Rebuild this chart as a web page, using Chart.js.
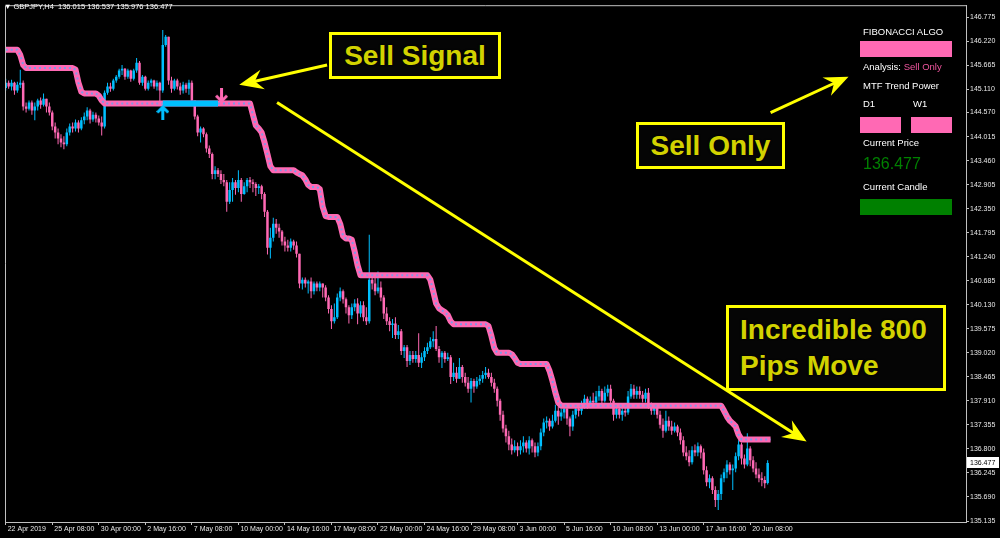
<!DOCTYPE html>
<html>
<head>
<meta charset="utf-8">
<script src="https://cdn.jsdelivr.net/npm/chart.js@4.4.1/dist/chart.umd.min.js"></script>
<style>
  html, body { margin: 0; padding: 0; background: #000; }
  #wrap { position: relative; width: 1000px; height: 538px; overflow: hidden; background: #000; }
  #chart { position: absolute; left: 0; top: 0; }
  .ov { position: absolute; white-space: pre; font-family: "Liberation Sans", Arial, sans-serif; }
  .hdr { left: 4px; top: 2px; font-size: 7.5px; line-height: 10px; color: #fff; }
  .pt { left: 863px; font-size: 9.5px; line-height: 11px; color: #fff; }
  .blk { position: absolute; background: #ff69b4; }
  .callout { position: absolute; box-sizing: border-box; border: 3px solid #ffff00; background: #050505;
             font: bold 28px "Liberation Sans", Arial, sans-serif; line-height: 36px; color: #d2d200;
             text-shadow: 0 0 2px #000; white-space: pre; }
  .center { display: flex; align-items: center; justify-content: center; }
</style>
</head>
<body>
<div id="wrap">
  <canvas id="chart" width="1000" height="538"></canvas>

  <div class="ov hdr">▼ GBPJPY,H4  136.015 136.537 135.976 136.477</div>

  <div class="callout center" style="left:329px;top:32px;width:172px;height:47px">Sell Signal</div>
  <div class="callout center" style="left:636px;top:122px;width:149px;height:47px">Sell Only</div>
  <div class="callout" style="left:726px;top:305px;width:220px;height:86px;padding:4px 0 0 11px">Incredible 800
Pips Move</div>

  <div class="ov pt" style="top:26px">FIBONACCI ALGO</div>
  <div class="blk" style="left:860px;top:41px;width:92px;height:16px"></div>
  <div class="ov pt" style="top:61px">Analysis: <span style="color:#f0559e">Sell Only</span></div>
  <div class="ov pt" style="top:80px">MTF Trend Power</div>
  <div class="ov pt" style="top:98px">D1</div>
  <div class="ov pt" style="top:98px;left:913px">W1</div>
  <div class="blk" style="left:860px;top:117px;width:41px;height:16px"></div>
  <div class="blk" style="left:911px;top:117px;width:41px;height:16px"></div>
  <div class="ov pt" style="top:137px">Current Price</div>
  <div class="ov pt" style="top:154px;font-size:16px;line-height:20px;color:#008000">136.477</div>
  <div class="ov pt" style="top:181px">Current Candle</div>
  <div class="blk" style="left:860px;top:199px;width:92px;height:16px;background:#008000"></div>
</div>

<script>
// GBPJPY H4, one entry per bar (bar 0 = 22 Apr 2019)
const barOpen = [
  145.14,145.26,145.17,145.26,145.08,145.21,145.26,144.71,144.66,144.80,
  144.62,144.71,144.85,144.75,144.89,144.71,144.57,144.25,144.11,143.97,
  143.88,143.84,144.11,144.25,144.20,144.34,144.20,144.39,144.48,144.62,
  144.41,144.52,144.43,144.34,144.25,145.03,145.17,145.12,145.31,145.40,
  145.54,145.58,145.40,145.54,145.35,145.54,145.72,145.26,145.40,145.12,
  145.26,145.31,145.17,145.26,145.08,146.13,146.32,145.31,145.12,145.31,
  145.17,145.08,145.21,145.12,145.26,144.85,144.48,144.11,144.20,144.07,
  143.74,143.61,143.15,143.24,143.15,143.01,142.96,142.51,142.78,142.96,
  142.83,143.01,142.69,142.87,143.01,142.96,142.92,142.83,142.87,142.69,
  142.28,141.45,141.68,142.00,141.91,141.82,141.59,141.50,141.45,141.59,
  141.50,141.31,140.62,140.71,140.62,140.67,140.44,140.62,140.53,140.62,
  140.53,140.30,140.03,139.75,139.84,140.30,140.44,140.26,140.07,139.89,
  140.07,140.16,139.93,140.12,139.84,139.75,140.71,140.62,140.44,140.53,
  140.30,139.93,139.75,139.66,139.70,139.43,139.52,139.06,139.15,138.83,
  138.97,138.88,138.97,138.79,138.92,139.06,139.15,139.29,139.34,139.11,
  138.92,139.02,138.88,138.92,138.46,138.56,138.42,138.69,138.46,138.33,
  138.19,138.37,138.24,138.37,138.42,138.51,138.56,138.46,138.33,138.19,
  137.91,137.59,137.27,137.09,136.90,136.77,136.86,136.77,136.86,136.95,
  136.81,137.00,136.86,136.72,136.86,137.18,137.41,137.45,137.32,137.45,
  137.68,137.55,137.64,137.73,137.50,137.32,137.59,137.73,137.68,137.82,
  137.96,137.82,137.91,137.87,138.01,138.14,137.91,138.10,138.19,137.91,
  137.59,137.73,137.59,137.68,137.64,138.01,138.19,138.05,138.14,138.05,
  137.96,138.10,137.82,137.68,137.78,137.59,137.36,137.22,137.45,137.32,
  137.22,137.32,137.18,137.00,136.72,136.63,136.49,136.77,136.72,136.86,
  136.72,136.31,136.03,136.12,135.85,135.62,135.76,136.12,136.26,136.44,
  136.31,136.35,136.63,136.90,136.58,136.44,136.81,136.54,136.35,136.21,
  136.12,136.08,136.015
];
const barHigh = [
  145.35,145.31,145.33,145.28,145.28,145.56,145.31,144.80,144.85,144.85,
  144.80,144.89,144.92,145.01,144.89,144.80,144.62,144.34,144.20,144.07,
  144.02,144.20,144.32,144.34,144.41,144.39,144.46,144.57,144.69,144.66,
  144.59,144.57,144.50,144.48,145.08,145.26,145.26,145.35,145.44,145.58,
  145.67,145.60,145.58,145.56,145.58,145.83,145.76,145.44,145.42,145.31,
  145.35,145.33,145.31,145.28,146.48,146.36,146.32,145.40,145.35,145.35,
  145.26,145.28,145.26,145.33,145.31,144.80,144.52,144.25,144.23,144.11,
  143.81,143.65,143.33,143.29,143.24,143.15,143.01,142.96,143.06,143.01,
  143.24,143.06,142.96,143.06,143.08,143.03,142.96,142.92,142.90,142.73,
  142.32,141.91,142.14,142.11,142.00,141.86,141.70,141.63,141.66,141.63,
  141.59,141.31,140.76,140.76,140.71,140.76,140.67,140.67,140.67,140.62,
  140.58,140.35,140.12,140.16,140.39,140.53,140.48,140.30,140.12,140.16,
  140.26,140.28,140.21,140.21,140.07,141.75,140.85,140.76,140.90,140.67,
  140.35,140.07,139.84,139.80,139.84,139.66,139.57,139.20,139.20,139.06,
  139.06,139.06,139.47,139.02,139.15,139.25,139.38,139.52,139.64,139.18,
  139.06,139.06,139.02,138.97,138.79,138.69,138.90,138.74,138.56,138.46,
  138.44,138.42,138.46,138.51,138.60,138.69,138.65,138.56,138.42,138.24,
  137.96,137.68,137.36,137.22,137.04,137.00,136.95,137.00,137.09,137.00,
  137.09,137.04,136.95,136.95,137.27,137.50,137.55,137.50,137.59,137.82,
  137.78,137.73,137.82,137.78,137.55,137.68,137.82,137.82,137.91,138.05,
  138.01,138.01,138.10,138.14,138.26,138.19,138.24,138.28,138.28,137.96,
  137.78,137.78,137.78,137.82,138.14,138.30,138.28,138.24,138.24,138.14,
  138.19,138.21,137.87,137.82,137.82,137.68,137.50,137.68,137.55,137.45,
  137.41,137.36,137.27,137.09,136.86,136.77,136.86,136.90,136.95,136.90,
  136.81,136.40,136.21,136.17,135.94,135.85,136.21,136.35,136.54,136.49,
  136.44,136.72,137.00,136.95,136.67,137.16,136.86,136.63,136.49,136.35,
  136.26,136.17,136.537
];
const barLow = [
  145.08,145.12,145.08,144.98,145.03,145.14,144.62,144.57,144.62,144.52,
  144.39,144.62,144.66,144.71,144.57,144.50,144.16,143.97,143.84,143.77,
  143.72,143.79,144.04,144.11,144.13,144.11,144.16,144.30,144.39,144.32,
  144.36,144.34,144.27,144.04,144.20,144.98,145.05,145.08,145.26,145.35,
  145.44,145.33,145.35,145.28,145.31,145.49,145.21,145.19,145.08,145.08,
  145.17,145.12,145.08,144.80,145.03,146.09,145.21,145.03,145.08,145.10,
  144.98,145.01,145.03,144.98,144.78,144.41,144.02,143.88,144.00,143.65,
  143.52,143.03,143.03,143.08,142.92,142.87,142.28,142.46,142.51,142.67,
  142.73,142.51,142.67,142.73,142.83,142.73,142.64,142.69,142.57,142.16,
  141.29,141.20,141.59,141.77,141.68,141.50,141.36,141.36,141.36,141.40,
  141.22,140.51,140.48,140.53,140.39,140.28,140.37,140.44,140.44,140.30,
  140.21,139.93,139.57,139.70,139.80,140.21,140.16,139.93,139.70,139.80,
  139.98,139.68,139.84,139.75,139.66,139.70,140.48,140.35,140.39,140.21,
  139.80,139.66,139.52,139.36,139.34,139.34,138.97,138.90,138.69,138.74,
  138.79,138.79,138.69,138.67,138.83,138.99,139.11,139.15,139.06,138.79,
  138.67,138.79,138.83,138.30,138.37,138.33,138.42,138.33,138.24,138.10,
  137.87,138.10,138.19,138.28,138.33,138.42,138.42,138.24,138.10,137.78,
  137.45,137.18,136.95,136.77,136.67,136.72,136.63,136.67,136.72,136.72,
  136.67,136.72,136.61,136.63,136.77,137.09,137.27,137.22,137.27,137.41,
  137.36,137.45,137.50,137.36,137.09,137.22,137.50,137.55,137.59,137.73,
  137.73,137.78,137.78,137.82,137.91,137.82,137.87,138.01,137.82,137.45,
  137.50,137.50,137.45,137.55,137.59,137.96,137.96,137.96,137.96,137.87,
  137.87,137.73,137.59,137.59,137.50,137.27,137.06,137.18,137.22,137.13,
  137.18,137.09,136.90,136.63,136.54,136.40,136.44,136.63,136.63,136.58,
  136.21,135.94,135.89,135.76,135.46,135.39,135.62,136.03,136.12,136.21,
  135.85,136.26,136.54,136.44,136.35,136.40,136.40,136.26,136.12,136.03,
  135.94,135.89,135.976
];
const barClose = [
  145.26,145.17,145.26,145.08,145.21,145.26,144.71,144.66,144.80,144.62,
  144.71,144.85,144.75,144.89,144.71,144.57,144.25,144.11,143.97,143.88,
  143.84,144.11,144.25,144.20,144.34,144.20,144.39,144.48,144.62,144.41,
  144.52,144.43,144.34,144.25,145.03,145.17,145.12,145.31,145.40,145.54,
  145.58,145.40,145.54,145.35,145.54,145.72,145.26,145.40,145.12,145.26,
  145.31,145.17,145.26,145.08,146.13,146.32,145.31,145.12,145.31,145.17,
  145.08,145.21,145.12,145.26,144.85,144.48,144.11,144.20,144.07,143.74,
  143.61,143.15,143.24,143.15,143.01,142.96,142.51,142.78,142.96,142.83,
  143.01,142.69,142.87,143.01,142.96,142.92,142.83,142.87,142.69,142.28,
  141.45,141.68,142.00,141.91,141.82,141.59,141.50,141.45,141.59,141.50,
  141.31,140.62,140.71,140.62,140.67,140.44,140.62,140.53,140.62,140.53,
  140.30,140.03,139.75,139.84,140.30,140.44,140.26,140.07,139.89,140.07,
  140.16,139.93,140.12,139.84,139.75,140.71,140.62,140.44,140.53,140.30,
  139.93,139.75,139.66,139.70,139.43,139.52,139.06,139.15,138.83,138.97,
  138.88,138.97,138.79,138.92,139.06,139.15,139.29,139.34,139.11,138.92,
  139.02,138.88,138.92,138.46,138.56,138.42,138.69,138.46,138.33,138.19,
  138.37,138.24,138.37,138.42,138.51,138.56,138.46,138.33,138.19,137.91,
  137.59,137.27,137.09,136.90,136.77,136.86,136.77,136.86,136.95,136.81,
  137.00,136.86,136.72,136.86,137.18,137.41,137.45,137.32,137.45,137.68,
  137.55,137.64,137.73,137.50,137.32,137.59,137.73,137.68,137.82,137.96,
  137.82,137.91,137.87,138.01,138.14,137.91,138.10,138.19,137.91,137.59,
  137.73,137.59,137.68,137.64,138.01,138.19,138.05,138.14,138.05,137.96,
  138.10,137.82,137.68,137.78,137.59,137.36,137.22,137.45,137.32,137.22,
  137.32,137.18,137.00,136.72,136.63,136.49,136.77,136.72,136.86,136.72,
  136.31,136.03,136.12,135.85,135.62,135.76,136.12,136.26,136.44,136.31,
  136.35,136.63,136.90,136.58,136.44,136.81,136.54,136.35,136.21,136.12,
  136.08,136.01,136.477
];

// Fibonacci Algo trend line, one value per bar (runs one bar past the last candle)
const fiboLine = [
  146.02,146.02,146.02,146.02,146.02,145.90,145.67,145.60,145.60,145.60,
  145.60,145.60,145.60,145.60,145.60,145.60,145.60,145.60,145.60,145.60,
  145.60,145.60,145.60,145.60,145.56,145.26,145.05,145.01,145.01,145.01,
  145.01,145.01,144.96,144.85,144.78,144.78,144.78,144.78,144.78,144.78,
  144.78,144.78,144.78,144.78,144.78,144.78,144.78,144.78,144.78,144.78,
  144.78,144.78,144.78,144.78,144.78,144.78,144.78,144.78,144.78,144.78,
  144.78,144.78,144.78,144.78,144.78,144.78,144.78,144.78,144.78,144.78,
  144.78,144.78,144.78,144.78,144.78,144.78,144.78,144.78,144.78,144.78,
  144.78,144.78,144.78,144.78,144.78,144.52,144.27,144.20,144.11,143.88,
  143.61,143.33,143.24,143.24,143.24,143.24,143.24,143.24,143.24,143.24,
  143.19,143.15,143.12,143.03,142.90,142.85,142.85,142.85,142.80,142.39,
  142.18,142.16,142.16,142.16,142.16,142.00,141.72,141.66,141.66,141.63,
  141.36,141.04,140.81,140.81,140.81,140.81,140.81,140.81,140.81,140.81,
  140.81,140.81,140.81,140.81,140.81,140.81,140.81,140.81,140.81,140.81,
  140.81,140.81,140.81,140.81,140.81,140.81,140.71,140.44,140.16,140.05,
  140.00,139.96,139.89,139.75,139.68,139.68,139.68,139.68,139.68,139.68,
  139.68,139.68,139.68,139.68,139.68,139.68,139.64,139.41,139.13,139.02,
  139.02,139.02,139.02,139.02,138.99,138.90,138.79,138.76,138.76,138.76,
  138.76,138.76,138.76,138.76,138.76,138.76,138.76,138.60,138.37,138.10,
  137.87,137.80,137.80,137.80,137.80,137.80,137.80,137.80,137.80,137.80,
  137.80,137.80,137.80,137.80,137.80,137.80,137.80,137.80,137.80,137.80,
  137.80,137.80,137.80,137.80,137.80,137.80,137.80,137.80,137.80,137.80,
  137.80,137.80,137.80,137.80,137.80,137.80,137.80,137.80,137.80,137.80,
  137.80,137.80,137.80,137.80,137.80,137.80,137.80,137.80,137.80,137.80,
  137.80,137.80,137.80,137.80,137.80,137.80,137.80,137.68,137.55,137.45,
  137.39,137.32,137.13,137.02,137.02,137.02,137.02,137.02,137.02,137.02,
  137.02,137.02,137.02,137.02
];

// bars where the line turned blue (buy phase), and the two signal arrows
const buyFrom = 54, buyTo = 73;
const buyArrow = [{ x: 54, y: 144.57 }];
const sellArrow = [{ x: 74.2, y: 144.96 }];

// time axis: one label every 16 bars
const xTickBars = [0, 16, 32, 48, 64, 80, 96, 112, 128, 144, 160, 176, 192, 208, 224, 240, 256];
const xTickLabels = ['22 Apr 2019', '25 Apr 08:00', '30 Apr 00:00', '2 May 16:00', '7 May 08:00',
  '10 May 00:00', '14 May 16:00', '17 May 08:00', '22 May 00:00', '24 May 16:00', '29 May 08:00',
  '3 Jun 00:00', '5 Jun 16:00', '10 Jun 08:00', '13 Jun 00:00', '17 Jun 16:00', '20 Jun 08:00'];

// price axis
const yTickLabels = ['146.775', '146.220', '145.665', '145.110', '144.570', '144.015', '143.460',
  '142.905', '142.350', '141.795', '141.240', '140.685', '140.130', '139.575', '139.020', '138.465',
  '137.910', '137.355', '136.800', '136.245', '135.690', '135.135'];
const yTickValues = yTickLabels.map(Number);

// yellow callout arrows, [bar, price] from -> to
const calloutArrows = [
  { from: [110.5, 145.67], to: [80.3, 145.21] },
  { from: [263.0, 144.57], to: [289.8, 145.40] },
  { from: [93.3, 144.80], to: [275.4, 136.97] }
];

const BULL = '#00bfff';
const BEAR = '#ff69b4';
const AXIS = '#c0c0c0';
const TXT = '#e8e8e8';
const FONT = '"Liberation Sans", Arial, sans-serif';

const candleColor = ctx => (barClose[ctx.dataIndex] >= barOpen[ctx.dataIndex] ? BULL : BEAR);

function signalArrow(color, down) {
  const c = document.createElement('canvas');
  c.width = 13; c.height = 15;
  const g = c.getContext('2d');
  if (down) { g.translate(0, 15); g.scale(1, -1); }
  g.strokeStyle = color;
  g.lineWidth = 3;
  g.beginPath(); g.moveTo(6.5, 2); g.lineTo(6.5, 15); g.stroke();
  g.beginPath(); g.moveTo(1, 7.5); g.lineTo(6.5, 2); g.lineTo(12, 7.5); g.stroke();
  return c;
}

const chartFrame = {
  id: 'chartFrame',
  beforeDraw(chart) {
    const { ctx, width, height } = chart;
    ctx.save();
    ctx.fillStyle = '#000';
    ctx.fillRect(0, 0, width, height);
    ctx.restore();
  },
  afterDraw(chart) {
    const { ctx, chartArea: a, scales: { x, y } } = chart;
    ctx.save();
    // left and top edges of the frame
    ctx.strokeStyle = AXIS;
    ctx.lineWidth = 1;
    ctx.beginPath();
    ctx.moveTo(a.left + 0.5, a.bottom);
    ctx.lineTo(a.left + 0.5, a.top + 0.5);
    ctx.lineTo(a.right, a.top + 0.5);
    ctx.stroke();

    // yellow callout arrows
    ctx.strokeStyle = '#ffff00';
    ctx.fillStyle = '#ffff00';
    ctx.lineWidth = 3;
    calloutArrows.forEach(ar => {
      const x0 = x.getPixelForValue(ar.from[0]), y0 = y.getPixelForValue(ar.from[1]);
      const x1 = x.getPixelForValue(ar.to[0]), y1 = y.getPixelForValue(ar.to[1]);
      const len = Math.hypot(x1 - x0, y1 - y0);
      const ux = (x1 - x0) / len, uy = (y1 - y0) / len;
      const nx = -uy, ny = ux;
      ctx.beginPath();
      ctx.moveTo(x0, y0);
      ctx.lineTo(x1 - ux * 14, y1 - uy * 14);
      ctx.stroke();
      ctx.beginPath();
      ctx.moveTo(x1, y1);
      ctx.lineTo(x1 - ux * 24 + nx * 10, y1 - uy * 24 + ny * 10);
      ctx.lineTo(x1 - ux * 16, y1 - uy * 16);
      ctx.lineTo(x1 - ux * 24 - nx * 10, y1 - uy * 24 - ny * 10);
      ctx.closePath();
      ctx.fill();
    });

    // current price tag on the price axis
    const last = barClose[barClose.length - 1];
    const py = Math.round(y.getPixelForValue(last));
    ctx.fillStyle = '#ffffff';
    ctx.fillRect(a.right + 1, py - 6, 32, 11);
    ctx.fillStyle = '#000000';
    ctx.font = '7px ' + FONT;
    ctx.textBaseline = 'middle';
    ctx.textAlign = 'left';
    ctx.fillText(last.toFixed(3), a.right + 4, py);
    ctx.restore();
  }
};

new Chart(document.getElementById('chart'), {
  type: 'bar',
  data: {
    datasets: [
      {
        label: 'wicks',
        data: barClose.map((c, i) => ({ x: i, y: [barLow[i], barHigh[i]] })),
        backgroundColor: candleColor,
        barThickness: 1,
        inflateAmount: 0,
        grouped: false,
        order: 20
      },
      {
        label: 'bodies',
        data: barClose.map((c, i) => ({ x: i, y: [barOpen[i], c] })),
        backgroundColor: candleColor,
        barThickness: 2.5,
        minBarLength: 1,
        inflateAmount: 0,
        grouped: false,
        order: 19
      },
      {
        type: 'line',
        label: 'Fibonacci Algo',
        data: fiboLine.map((v, i) => ({ x: i, y: v })),
        borderColor: BEAR,
        borderWidth: 6,
        borderJoinStyle: 'round',
        pointRadius: 0,
        tension: 0,
        order: 5
      },
      {
        type: 'line',
        label: 'buy phase',
        data: fiboLine.map((v, i) => ({ x: i, y: i >= buyFrom && i <= buyTo ? v : null })),
        borderColor: BULL,
        borderWidth: 6,
        pointRadius: 0,
        tension: 0,
        spanGaps: false,
        order: 4
      },
      {
        type: 'line',
        label: 'center',
        data: fiboLine.map((v, i) => ({ x: i, y: i > buyFrom && i < buyTo ? null : v })),
        borderColor: '#7d9be8',
        borderWidth: 2,
        borderDash: [2, 3],
        pointRadius: 0,
        tension: 0,
        spanGaps: false,
        order: 3
      },
      {
        type: 'line',
        label: 'buy arrow',
        data: buyArrow,
        showLine: false,
        pointStyle: signalArrow(BULL, false),
        order: 1
      },
      {
        type: 'line',
        label: 'sell arrow',
        data: sellArrow,
        showLine: false,
        pointStyle: signalArrow(BEAR, true),
        order: 1
      }
    ]
  },
  options: {
    responsive: false,
    animation: false,
    devicePixelRatio: 1,
    layout: { padding: { left: 2, top: 2, right: 0, bottom: 0 } },
    plugins: { legend: { display: false }, tooltip: { enabled: false } },
    scales: {
      x: {
        type: 'linear',
        min: -0.25,
        max: 330.2,
        offset: false,
        grid: { offset: false, drawOnChartArea: false, drawTicks: true, tickLength: 3, color: AXIS },
        border: { display: true, color: AXIS },
        ticks: {
          autoSkip: false,
          maxRotation: 0,
          align: 'start',
          labelOffset: 2,
          padding: 0,
          color: TXT,
          font: { family: FONT, size: 7 },
          callback: (v, i) => xTickLabels[i]
        },
        afterBuildTicks: axis => { axis.ticks = xTickBars.map(v => ({ value: v })); },
        afterFit: axis => { axis.height = 16; }
      },
      y: {
        position: 'right',
        min: 135.112,
        max: 147.05,
        grid: { drawOnChartArea: false, drawTicks: true, tickLength: 3, color: AXIS },
        border: { display: true, color: AXIS },
        ticks: {
          autoSkip: false,
          padding: 1,
          color: TXT,
          font: { family: FONT, size: 7 },
          callback: (v, i) => yTickLabels[i]
        },
        afterBuildTicks: axis => { axis.ticks = yTickValues.map(v => ({ value: v })); },
        afterFit: axis => { axis.width = 34; }
      }
    }
  },
  plugins: [chartFrame]
});
</script>
</body>
</html>
